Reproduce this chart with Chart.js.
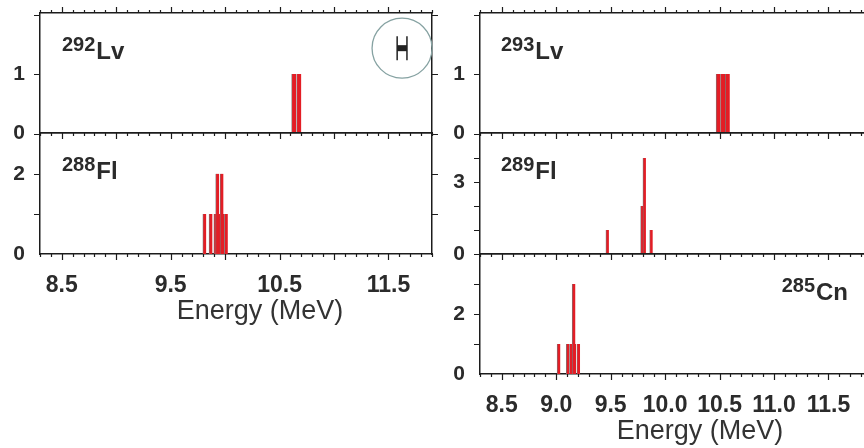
<!DOCTYPE html>
<html>
<head>
<meta charset="utf-8">
<script src="https://cdn.jsdelivr.net/npm/chart.js@4.4.1/dist/chart.umd.min.js"></script>
<style>
html, body { margin: 0; padding: 0; background: #fff; }
body { width: 864px; height: 448px; overflow: hidden; position: relative; }
.panel { position: absolute; }
</style>
</head>
<body>
<div class="panel" style="left:0;top:0;width:440px;height:141px"><canvas id="lv292"></canvas></div>
<div class="panel" style="left:0;top:128px;width:440px;height:206px"><canvas id="fl288"></canvas></div>
<div class="panel" style="left:440px;top:0;width:440px;height:141px"><canvas id="lv293"></canvas></div>
<div class="panel" style="left:440px;top:128px;width:440px;height:134px"><canvas id="fl289"></canvas></div>
<div class="panel" style="left:440px;top:249px;width:440px;height:199px"><canvas id="cn285"></canvas></div>
<script>
// alpha energies (MeV) and counts
var lv292Energy = [10.632, 10.678]
var lv292Counts = [1, 1]
var fl288Energy = [9.811, 9.868, 9.912, 9.944, 9.976, 10.009, 9.929, 9.969]
var fl288Counts = [1, 1, 1, 1, 1, 1, 2, 2]
var lv293Energy = [10.489, 10.530, 10.573]
var lv293Counts = [1, 1, 1]
var fl289Energy = [9.470, 9.789, 9.810, 9.872]
var fl289Counts = [1, 2, 4, 1]
var cn285Energy = [9.023, 9.107, 9.137, 9.167, 9.204, 9.161]
var cn285Counts = [1, 1, 1, 1, 1, 3]

// tick labels
var leftEnergyLabels = [8.5, 9.5, 10.5, 11.5]
var rightEnergyLabels = [8.5, 9.0, 9.5, 10.0, 10.5, 11.0, 11.5]
var lvCountLabels = [0, 1]
var fl288CountLabels = [0, 2]
var fl289CountLabels = [0, 3]
var cn285CountLabels = [0, 2]

// resolution marker in the 292Lv panel (energy, counts) and its width in MeV
var resolutionCenter = [11.625, 1.435]
var resolutionWidth = 0.09

var axisColor = "#1c1c1c"
var textColor = "#2b2b2b"
var barRed = "#e31d25"
var fontFamily = '"Liberation Sans", Arial, Helvetica, sans-serif'

Chart.defaults.font.family = fontFamily
Chart.defaults.animation = false

// tick marks drawn outside the frame: major every 0.5 MeV / 1 count, minor every 0.1 MeV
var frameTicks = {
    id: "frameTicks",
    afterDraw: function (chart, args, o) {
        var ctx = chart.ctx, a = chart.chartArea
        ctx.save()
        ctx.strokeStyle = axisColor
        ctx.lineWidth = 1.2
        var sx = chart.scales.x, sy = chart.scales.y
        for (var i = Math.ceil(sx.min * 10); i <= Math.floor(sx.max * 10); i++) {
            var len = i % 5 === 0 ? 6 : 3
            var px = Math.round(sx.getPixelForValue(i / 10)) + 0.5
            ctx.beginPath()
            ctx.moveTo(px, a.bottom); ctx.lineTo(px, a.bottom + len)
            if (o.top) { ctx.moveTo(px, a.top); ctx.lineTo(px, a.top - len) }
            ctx.stroke()
        }
        for (var j = Math.ceil(sy.min); j <= Math.floor(sy.max); j++) {
            if (j === 0) continue
            var py = Math.round(sy.getPixelForValue(j)) + 0.5
            ctx.beginPath()
            ctx.moveTo(a.left, py); ctx.lineTo(a.left - 6, py)
            ctx.moveTo(a.right, py); ctx.lineTo(a.right + 6, py)
            ctx.stroke()
        }
        ctx.restore()
    }
}

// isotope name with mass number raised
var panelLabel = {
    id: "panelLabel",
    afterDraw: function (chart, args, o) {
        if (!o.sym) return
        var ctx = chart.ctx, a = chart.chartArea
        ctx.save()
        ctx.fillStyle = textColor
        ctx.textBaseline = "alphabetic"
        ctx.textAlign = "left"
        ctx.font = "bold 20px " + fontFamily
        var supW = ctx.measureText(o.mass).width
        ctx.font = "bold 24px " + fontFamily
        var symW = ctx.measureText(o.sym).width
        var x = o.right ? a.right - o.dx - supW - symW - 1 : a.left + o.dx
        ctx.font = "bold 20px " + fontFamily
        ctx.fillText(o.mass, x, a.top + 38)
        ctx.font = "bold 24px " + fontFamily
        ctx.fillText(o.sym, x + supW + 1, a.top + 46)
        ctx.restore()
    }
}

// circled energy-resolution bar
var resolutionMark = {
    id: "resolutionMark",
    afterDraw: function (chart, args, o) {
        if (!o.show) return
        var ctx = chart.ctx
        var sx = chart.scales.x, sy = chart.scales.y
        var cx = sx.getPixelForValue(resolutionCenter[0])
        var cy = sy.getPixelForValue(resolutionCenter[1])
        var half = (sx.getPixelForValue(resolutionCenter[0] + resolutionWidth / 2) - cx)
        ctx.save()
        ctx.strokeStyle = "#86a2a2"
        ctx.lineWidth = 1.3
        ctx.beginPath()
        ctx.arc(cx, cy, 30, 0, 2 * Math.PI)
        ctx.stroke()
        ctx.strokeStyle = "#222"
        ctx.lineWidth = 1.5
        ctx.beginPath()
        ctx.moveTo(cx - half, cy - 12); ctx.lineTo(cx - half, cy + 12)
        ctx.moveTo(cx + half, cy - 12); ctx.lineTo(cx + half, cy + 12)
        ctx.stroke()
        ctx.fillStyle = "#222"
        ctx.fillRect(cx - half, cy - 3, 2 * half, 6)
        ctx.restore()
    }
}

// energy axis caption
var axisCaption = {
    id: "axisCaption",
    afterDraw: function (chart, args, o) {
        if (!o.text) return
        var ctx = chart.ctx, a = chart.chartArea
        ctx.save()
        ctx.fillStyle = "#333"
        ctx.font = "27px " + fontFamily
        ctx.textAlign = "center"
        ctx.textBaseline = "middle"
        ctx.fillText(o.text, (a.left + a.right) / 2 + 24, a.bottom + 58)
        ctx.restore()
    }
}

Chart.register(frameTicks, panelLabel, resolutionMark, axisCaption)

function energyAxis(pos, labels, size) {
    return {
        type: "linear",
        position: pos,
        min: 8.3,
        max: 11.9,
        offset: false,
        afterFit: function (s) { s.height = size; s.paddingLeft = 0; s.paddingRight = 0 },
        border: { color: axisColor, width: 1.5 },
        grid: { offset: false, display: false, drawOnChartArea: false, drawTicks: false },
        ticks: {
            display: labels !== null,
            stepSize: 0.5,
            includeBounds: false,
            autoSkip: false,
            maxRotation: 0,
            padding: 18,
            color: textColor,
            font: { size: 23, weight: "bold" },
            callback: function (v) {
                if (!labels) return ""
                for (var i = 0; i < labels.length; i++) {
                    if (Math.abs(labels[i] - v) < 1e-6) return v.toFixed(1)
                }
                return ""
            }
        }
    }
}

function countAxis(pos, max, labels) {
    return {
        type: "linear",
        position: pos,
        min: 0,
        max: max,
        afterFit: function (s) { s.width = pos === "left" ? 40 : 8; s.paddingTop = 0; s.paddingBottom = 0 },
        border: { color: axisColor, width: 1.5 },
        grid: { display: false, drawOnChartArea: false, drawTicks: false },
        ticks: {
            display: labels !== null,
            stepSize: 1,
            includeBounds: false,
            autoSkip: false,
            padding: 15,
            color: textColor,
            font: { size: 21, weight: "bold" },
            callback: function (v) {
                if (!labels) return ""
                return labels.indexOf(v) >= 0 ? String(v) : ""
            }
        }
    }
}

function makePanel(id, energy, counts, cfg) {
    var points = energy.map(function (e, i) { return { x: e, y: counts[i] } })
    return new Chart(id, {
        type: "bar",
        data: {
            datasets: [{
                data: points,
                backgroundColor: barRed,
                borderColor: "#7a7a7a",
                borderWidth: { left: 0.8, right: 0, top: 0, bottom: 0 },
                borderSkipped: "start",
                barThickness: cfg.barWidth,
                grouped: false
            }]
        },
        options: {
            responsive: true,
            maintainAspectRatio: false,
            layout: { padding: 0 },
            plugins: {
                legend: { display: false },
                tooltip: { enabled: false },
                frameTicks: { top: cfg.top },
                panelLabel: { mass: cfg.mass, sym: cfg.sym, dx: cfg.dx, right: cfg.right },
                resolutionMark: { show: !!cfg.resolution },
                axisCaption: { text: cfg.caption }
            },
            scales: {
                x: energyAxis("bottom", cfg.xLabels, cfg.bottomSize),
                x2: energyAxis("top", null, cfg.top ? 13 : 5),
                y: countAxis("left", cfg.yMax, cfg.yLabels),
                y2: countAxis("right", cfg.yMax, null)
            }
        }
    })
}

makePanel("lv292", lv292Energy, lv292Counts, {
    mass: "292", sym: "Lv", dx: 22, top: true, bottomSize: 8, xLabels: null,
    yMax: 2.03, yLabels: lvCountLabels, barWidth: 4.6, resolution: true
})
makePanel("fl288", fl288Energy, fl288Counts, {
    mass: "288", sym: "Fl", dx: 22, top: false, bottomSize: 80, xLabels: leftEnergyLabels,
    yMax: 3.02, yLabels: fl288CountLabels, barWidth: 3.4, caption: "Energy (MeV)"
})
makePanel("lv293", lv293Energy, lv293Counts, {
    mass: "293", sym: "Lv", dx: 21, top: true, bottomSize: 8, xLabels: null,
    yMax: 2.03, yLabels: lvCountLabels, barWidth: 4.5
})
makePanel("fl289", fl289Energy, fl289Counts, {
    mass: "289", sym: "Fl", dx: 21, top: false, bottomSize: 8, xLabels: null,
    yMax: 5.04, yLabels: fl289CountLabels, barWidth: 3
})
makePanel("cn285", cn285Energy, cn285Counts, {
    mass: "285", sym: "Cn", dx: 24, right: true, top: false, bottomSize: 74, xLabels: rightEnergyLabels,
    yMax: 4, yLabels: cn285CountLabels, barWidth: 3.2, caption: "Energy (MeV)"
})
</script>
</body>
</html>
